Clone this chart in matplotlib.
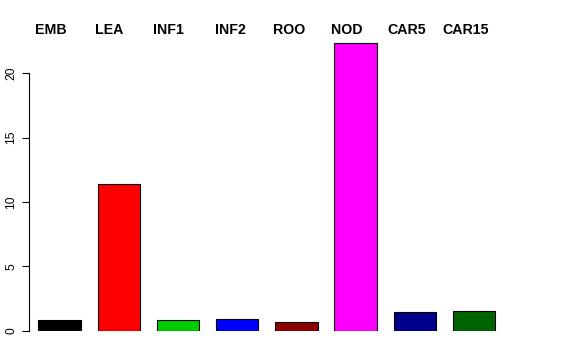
import numpy as np
import matplotlib
matplotlib.use('Agg')
import matplotlib.pyplot as plt

# data
groups = ['EMB', 'LEA', 'INF1', 'INF2', 'ROO', 'NOD', 'CAR5', 'CAR15']
values = [0.83, 11.4, 0.88, 0.95, 0.72, 22.33, 1.50, 1.55]
colors = ['#000000', '#FF0000', '#00CD00', '#0000FF', '#8B0000',
          '#FF00FF', '#00008B', '#006400']
yticks = [0, 5, 10, 15, 20]

plt.rcParams['font.family'] = ['Liberation Sans', 'DejaVu Sans']

fig = plt.figure(figsize=(5.76, 3.6), dpi=100)
ax = fig.add_axes([0.0372, 0.0806, 0.852, 0.842])

# R-style barplot: width 1, space 0.4
x = 0.4 + np.arange(len(values)) * 1.4 + 0.5
ax.bar(x, values, width=1.0, color=colors, edgecolor='black', linewidth=0.8)

ax.set_xlim(0, 11.6)
ax.set_ylim(0, 23.5)

for s in ['top', 'right', 'bottom']:
    ax.spines[s].set_visible(False)
ax.spines['left'].set_position(('data', 0.17))
ax.spines['left'].set_bounds(0, 20)
ax.spines['left'].set_linewidth(0.8)
ax.set_xticks([])
ax.set_yticks(yticks)
ax.set_yticklabels([str(t) for t in yticks], rotation=90, va='center', fontsize=8.64)
ax.tick_params(axis='y', length=5, width=0.8, pad=3)

# group labels across the top
label_px = [35.5, 95.5, 152.5, 214.5, 272.5, 331.5, 387.5, 442.5]
for name, px in zip(groups, label_px):
    fig.text(px / 576, 1 - 30.5 / 360, name, ha='left', va='center',
             fontsize=10.2, fontweight='bold')

fig.savefig('out.png', dpi=100)
